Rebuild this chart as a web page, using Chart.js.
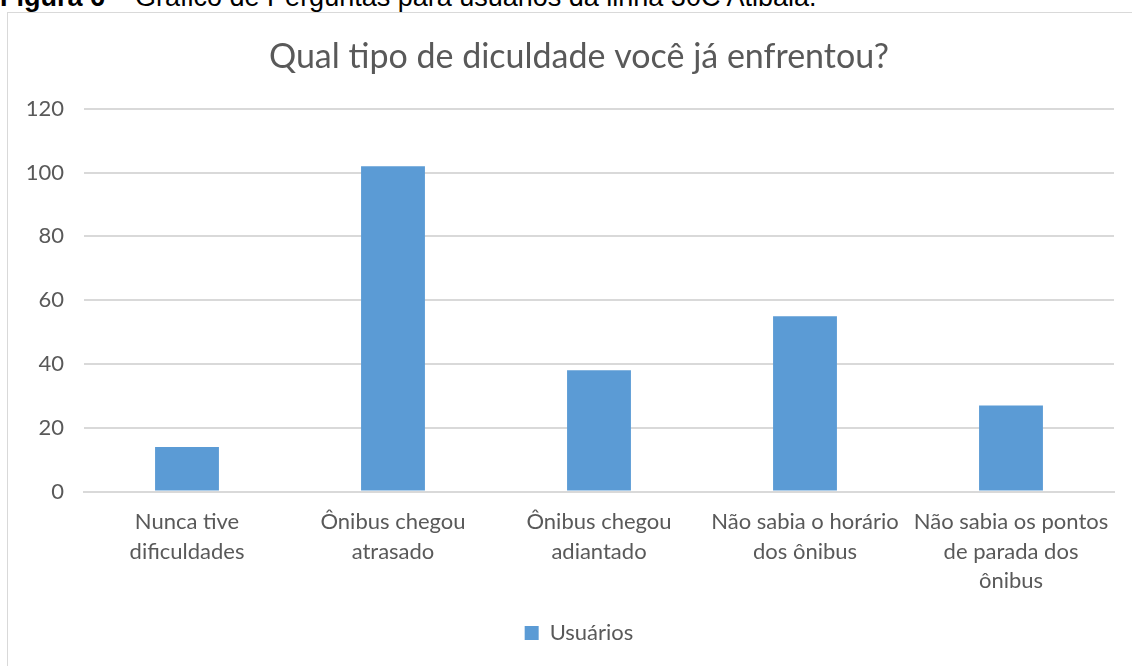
<!DOCTYPE html>
<html>
<head>
<meta charset="utf-8">
<script src="https://cdn.jsdelivr.net/npm/chart.js@4"></script>
<style>
  body { margin: 0; background: #fff; width: 1132px; height: 666px; overflow: hidden; position: relative; }
  #caption { position: absolute; left: 0; top: -18px; line-height: 30px; font-family: "Liberation Sans", Arial, sans-serif; font-size: 27px; color: #000; white-space: nowrap; }
  #frame { position: absolute; left: 7px; top: 12px; width: 1142px; height: 660px; border: 1px solid #d9d9d9; }
  #box { position: absolute; left: 8px; top: 13px; width: 1142px; height: 653px; }
</style>
</head>
<body>
<div id="caption"><b>Figura 6 –</b> Gráfico de Perguntas para usuários da linha 30C Atibaia.</div>
<div id="frame"></div>
<div id="box"><canvas id="chart"></canvas></div>
<script>
// chart data
const categories = [
	["Nunca tive", "dificuldades"],
	["Ônibus chegou", "atrasado"],
	["Ônibus chegou", "adiantado"],
	["Não sabia o horário", "dos ônibus"],
	["Não sabia os pontos", "de parada dos", "ônibus"],
];
const usuarios = [14, 102, 38, 55, 27];
const yTicks = [0, 20, 40, 60, 80, 100, 120];

const textColor = "#595959";
const fontFamily = "Lato, 'Open Sans', sans-serif";

const ctx = document.getElementById("chart").getContext("2d");
new Chart(ctx, {
	type: "bar",
	data: {
		labels: categories,
		datasets: [
			{
				label: "Usuários",
				data: usuarios,
				backgroundColor: "#5b9bd5",
				categoryPercentage: 1,
				barPercentage: 0.31,
			},
		],
	},
	options: {
		responsive: true,
		maintainAspectRatio: false,
		animation: false,
		layout: { padding: { left: 0, right: 0, top: 0, bottom: 12 } },
		plugins: {
			title: {
				display: true,
				text: "Qual tipo de diculdade você já enfrentou?",
				color: textColor,
				font: { family: fontFamily, size: 34, weight: "normal" },
				padding: { top: 24, bottom: 31 },
			},
			legend: {
				position: "bottom",
				labels: {
					color: textColor,
					font: { family: fontFamily, size: 22 },
					boxWidth: 14,
					boxHeight: 14,
					padding: 10,
				},
			},
			tooltip: { enabled: false },
		},
		scales: {
			x: {
				grid: { display: false, drawTicks: false },
				border: { color: "#d9d9d9", width: 2 },
				ticks: {
					color: textColor,
					font: { family: fontFamily, size: 22, lineHeight: 1.34 },
					maxRotation: 0,
					autoSkip: false,
					padding: 16,
				},
			},
			y: {
				min: 0,
				max: 120,
				afterBuildTicks: (axis) => {
					axis.ticks = yTicks.map((v) => ({ value: v }));
				},
				afterFit: (axis) => {
					axis.width = 76;
				},
				grid: { color: "#d9d9d9", lineWidth: 2, drawTicks: false },
				border: { display: false },
				ticks: {
					color: textColor,
					font: { family: fontFamily, size: 22 },
					padding: 20,
				},
			},
			// empty right-hand space, so the plot ends where the reference does
			spacer: {
				type: "linear",
				position: "right",
				grid: { display: false, drawTicks: false },
				border: { display: false },
				ticks: { display: false },
				afterFit: (axis) => {
					axis.width = 36;
				},
			},
		},
	},
});
</script>
</body>
</html>
